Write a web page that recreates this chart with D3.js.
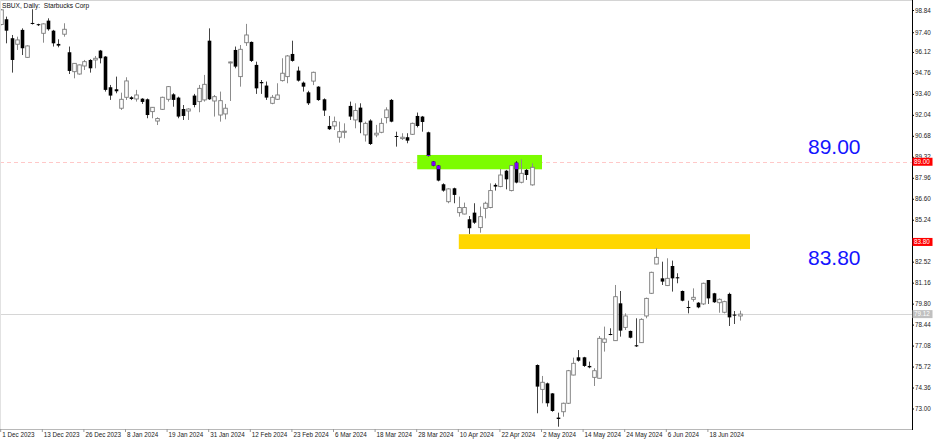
<!DOCTYPE html>
<html><head><meta charset="utf-8">
<script src="https://cdn.jsdelivr.net/npm/d3@7"></script>
<style>
html,body{margin:0;padding:0;background:#fff}
svg{display:block}
text{font-family:"Liberation Sans",Arial,sans-serif}
</style>
</head><body>
<svg id="c" width="936" height="440"></svg>
<script>
// ---------- DATA ----------
const dates = [
"2023-12-01","2023-12-04","2023-12-05","2023-12-06","2023-12-07","2023-12-08","2023-12-11","2023-12-12","2023-12-13","2023-12-14","2023-12-15","2023-12-18","2023-12-19","2023-12-20","2023-12-21","2023-12-22","2023-12-26","2023-12-27","2023-12-28","2023-12-29",
"2024-01-02","2024-01-03","2024-01-04","2024-01-05","2024-01-08","2024-01-09","2024-01-10","2024-01-11","2024-01-12","2024-01-16","2024-01-17","2024-01-18","2024-01-19","2024-01-22","2024-01-23","2024-01-24","2024-01-25","2024-01-26","2024-01-29","2024-01-30","2024-01-31",
"2024-02-01","2024-02-02","2024-02-05","2024-02-06","2024-02-07","2024-02-08","2024-02-09","2024-02-12","2024-02-13","2024-02-14","2024-02-15","2024-02-16","2024-02-20","2024-02-21","2024-02-22","2024-02-23","2024-02-26","2024-02-27","2024-02-28","2024-02-29",
"2024-03-01","2024-03-04","2024-03-05","2024-03-06","2024-03-07","2024-03-08","2024-03-11","2024-03-12","2024-03-13","2024-03-14","2024-03-15","2024-03-18","2024-03-19","2024-03-20","2024-03-21","2024-03-22","2024-03-25","2024-03-26","2024-03-27","2024-03-28",
"2024-04-01","2024-04-02","2024-04-03","2024-04-04","2024-04-05","2024-04-08","2024-04-09","2024-04-10","2024-04-11","2024-04-12","2024-04-15","2024-04-16","2024-04-17","2024-04-18","2024-04-19","2024-04-22","2024-04-23","2024-04-24","2024-04-25","2024-04-26","2024-04-29","2024-04-30",
"2024-05-01","2024-05-02","2024-05-03","2024-05-06","2024-05-07","2024-05-08","2024-05-09","2024-05-10","2024-05-13","2024-05-14","2024-05-15","2024-05-16","2024-05-17","2024-05-20","2024-05-21","2024-05-22","2024-05-23","2024-05-24","2024-05-28","2024-05-29","2024-05-30","2024-05-31",
"2024-06-03","2024-06-04","2024-06-05","2024-06-06","2024-06-07","2024-06-10","2024-06-11","2024-06-12","2024-06-13","2024-06-14","2024-06-17","2024-06-18","2024-06-20","2024-06-21","2024-06-24","2024-06-25","2024-06-26","2024-06-27"
];
const open = [
97.90,98.24,97.01,96.62,97.55,95.77,98.00,97.92,97.33,98.15,97.50,96.64,97.27,96.10,94.84,94.69,95.21,95.60,95.60,96.21,
95.82,93.83,93.70,92.47,93.18,93.18,93.07,93.09,93.05,92.25,91.64,92.40,93.05,93.37,93.16,92.42,92.29,93.29,92.90,93.01,96.85,
92.94,92.03,92.10,95.45,96.25,94.52,96.72,96.77,95.28,94.17,93.94,92.79,93.05,94.26,94.52,95.99,94.91,94.13,93.50,94.23,
93.87,93.05,91.32,91.32,90.59,90.91,92.62,91.71,92.51,90.74,91.67,90.74,90.91,91.86,93.01,90.67,90.50,90.59,90.78,91.97,
91.93,90.91,89.01,88.75,87.54,86.41,87.28,85.70,85.61,85.27,85.70,84.73,85.98,86.03,87.50,87.39,88.42,87.13,88.94,87.67,88.47,87.50,
75.82,74.24,74.63,73.98,72.41,72.79,73.34,75.17,76.32,76.32,75.76,75.02,74.96,77.29,77.83,77.40,79.82,78.26,78.03,77.10,77.27,79.00,
80.47,82.37,81.44,80.97,82.24,81.51,80.62,79.58,80.08,79.86,79.78,81.33,80.47,79.86,79.24,80.43,79.09,79.00
];
const high = [
98.90,98.41,97.22,97.11,97.65,96.55,98.89,97.95,97.98,98.30,97.55,96.94,97.98,96.47,95.40,95.30,95.60,95.65,95.86,96.25,
95.85,93.98,94.52,93.48,94.48,93.25,93.66,93.12,93.10,92.55,91.88,93.22,93.91,93.44,93.22,92.68,92.47,93.40,93.98,94.63,97.65,
93.33,93.55,92.75,95.50,96.47,96.57,97.94,96.80,95.49,94.30,94.20,93.33,94.09,95.71,95.92,96.85,95.17,94.20,93.60,94.84,
93.90,93.11,91.97,91.93,91.60,91.49,92.90,92.79,92.79,91.60,91.75,91.39,91.82,92.53,93.07,90.95,90.85,90.85,91.54,92.19,
91.97,90.95,89.05,88.79,87.60,87.28,87.32,86.74,86.35,85.48,86.31,86.09,86.41,87.60,87.60,88.53,88.47,88.79,89.05,89.16,88.53,88.90,
75.86,75.11,74.68,74.00,72.73,73.38,75.50,76.30,76.79,76.35,76.04,75.61,77.70,78.31,78.20,81.01,80.62,79.17,78.05,78.85,78.85,80.19,
81.87,83.39,82.52,82.74,82.59,81.77,80.65,79.99,80.79,79.90,81.16,81.33,80.50,80.14,79.99,80.51,79.32,79.34
];
const low = [
97.85,96.68,94.78,96.25,95.92,95.75,97.90,97.80,96.72,97.50,96.47,96.42,97.11,94.69,94.41,94.65,94.95,94.78,95.06,95.38,
93.55,93.01,93.44,92.36,93.01,93.00,92.90,92.75,91.82,91.82,91.38,92.36,92.90,92.57,91.82,91.71,91.71,92.53,92.21,92.90,93.01,
91.93,91.60,91.75,92.94,95.06,93.87,96.51,95.47,93.40,93.40,93.01,92.73,93.01,94.20,94.09,95.49,94.20,93.55,92.68,93.97,
92.95,91.97,91.06,91.06,90.24,90.52,91.71,91.17,90.85,90.31,90.09,90.59,90.85,91.49,91.56,89.98,90.41,90.20,90.74,91.23,
90.95,89.33,88.70,87.73,87.06,86.31,86.31,85.44,85.59,84.32,84.97,84.40,85.33,85.98,87.13,87.35,87.21,87.08,87.60,87.60,87.82,87.45,
72.69,73.34,73.12,72.79,71.82,72.47,73.29,75.15,76.04,75.70,75.61,74.46,74.95,76.69,77.75,77.38,77.66,78.09,77.55,76.99,77.25,78.85,
80.43,82.35,81.01,80.94,80.58,81.12,79.95,79.17,79.93,79.50,79.71,79.78,79.85,79.21,79.17,78.35,78.48,78.70
];
const close = [
98.85,97.50,95.60,96.90,96.36,96.51,97.94,97.87,97.94,97.59,96.68,96.53,97.59,94.89,95.38,95.28,95.49,95.06,95.71,95.71,
93.66,93.29,93.57,93.05,94.24,93.07,93.33,92.88,92.03,92.53,91.80,93.18,93.87,93.01,91.93,91.97,92.42,92.68,93.76,94.02,93.05,
93.22,92.96,92.47,95.47,95.17,96.29,97.22,95.54,93.76,94.09,93.16,93.18,93.33,94.74,95.86,95.54,94.26,93.87,92.79,94.80,
93.00,92.32,91.11,91.60,90.95,90.98,91.93,92.32,91.56,91.49,90.15,90.85,91.49,92.36,91.60,90.65,90.59,90.37,91.49,91.32,
91.58,89.38,88.75,87.78,87.13,87.24,86.85,86.03,86.03,84.69,85.05,85.44,86.31,87.13,87.39,88.14,87.86,88.75,87.65,88.25,88.14,88.64,
74.42,74.70,73.34,72.84,72.32,73.34,75.45,75.93,76.10,75.76,75.67,75.45,77.55,77.51,77.77,80.25,78.05,79.00,77.59,77.03,78.78,80.14,
81.83,82.80,81.23,81.44,81.44,81.44,79.99,79.52,80.21,79.56,81.12,80.14,79.89,80.08,79.93,78.91,79.02,79.12
];
const priceTicks = [98.84,97.40,96.12,94.76,93.40,92.04,90.68,89.32,87.96,86.60,85.24,83.88,82.52,81.16,79.80,78.44,77.08,75.72,74.36,73.00];
const dateTickIndex = [0,8,16,24,32,40,48,56,64,72,80,88,96,104,112,120,128,136];
const dateTickLabels = ["1 Dec 2023","13 Dec 2023","26 Dec 2023","8 Jan 2024","19 Jan 2024","31 Jan 2024","12 Feb 2024","23 Feb 2024","6 Mar 2024","18 Mar 2024","28 Mar 2024","10 Apr 2024","22 Apr 2024","2 May 2024","14 May 2024","24 May 2024","6 Jun 2024","18 Jun 2024"];
const levelPrices = [89.00, 83.80];
const levelTexts = ["89.00", "83.80"];
const lastPrice = 79.12;
const zoneStart = [80, 88];
const zoneEnd = [104, 144];
const zoneHigh = [89.44, 84.30];
const zoneLow = [88.51, 83.34];
const title = "SBUX, Daily:  Starbucks Corp";

// ---------- LAYOUT ----------
const svg = d3.select("#c");
const axisX = 912, axisY = 429;
const x = d3.scaleLinear().domain([0, dates.length - 1]).range([1.2, 739.6]);
const y = d3.scaleLinear().domain([73.00, 98.84]).range([408.5, 10]);
const bodyW = 3.6;
const smallFont = "6.3px";

svg.append("rect").attr("width",936).attr("height",440).attr("fill","#fff");
svg.append("defs").append("clipPath").attr("id","plot")
  .append("rect").attr("x",1).attr("y",1).attr("width",axisX-1).attr("height",axisY-1);

// frame
svg.append("line").attr("x1",0).attr("x2",axisX).attr("y1",0.5).attr("y2",0.5).attr("stroke","#d4d4d4");
svg.append("line").attr("x1",0.5).attr("x2",0.5).attr("y1",0).attr("y2",axisY).attr("stroke","#e2e2e2");
svg.append("line").attr("x1",0).attr("x2",axisX).attr("y1",axisY+0.5).attr("y2",axisY+0.5).attr("stroke","#b8b8b8");

const plot = svg.append("g").attr("clip-path","url(#plot)");

// level line 89.00 dashed
plot.append("line").attr("x1",0).attr("x2",axisX)
  .attr("y1",Math.round(y(levelPrices[0]))+0.5).attr("y2",Math.round(y(levelPrices[0]))+0.5)
  .attr("stroke","#ffc8c8").attr("stroke-dasharray","4,3");
// last price line
plot.append("line").attr("x1",0).attr("x2",axisX)
  .attr("y1",Math.round(y(lastPrice))+0.5).attr("y2",Math.round(y(lastPrice))+0.5)
  .attr("stroke","#d6d6d6");

// zones
const zoneColors = ["#7cfc00", "#ffd700"];
zoneStart.forEach((s,k)=>{
  plot.append("rect").attr("x",x(s)).attr("width",x(zoneEnd[k])-x(s))
    .attr("y",y(zoneHigh[k])).attr("height",y(zoneLow[k])-y(zoneHigh[k]))
    .attr("fill",zoneColors[k]);
});
svg.select("defs").append("clipPath").attr("id","gz")
  .append("rect").attr("x",x(zoneStart[0])).attr("width",x(zoneEnd[0])-x(zoneStart[0]))
  .attr("y",y(zoneHigh[0])).attr("height",y(zoneLow[0])-y(zoneHigh[0]));

const bars = dates.map((d,i)=>({i, o:open[i], h:high[i], l:low[i], c:close[i]}));

// wicks
plot.selectAll("line.w").data(bars).join("line").attr("class","w")
  .attr("x1",d=>Math.round(x(d.i))+0.5).attr("x2",d=>Math.round(x(d.i))+0.5)
  .attr("y1",d=>y(d.h)).attr("y2",d=>y(d.l))
  .attr("stroke",d=>d.c>=d.o?"#8c8c8c":"#444").attr("stroke-width",1);

// bodies
function bodyTop(d){return y(Math.max(d.o,d.c));}
function bodyH(d){return Math.max(1, Math.abs(y(d.o)-y(d.c)));}
plot.selectAll("rect.b").data(bars).join("rect").attr("class","b")
  .attr("x",d=>Math.round(x(d.i))+0.5-bodyW/2).attr("width",bodyW)
  .attr("y",bodyTop).attr("height",bodyH)
  .attr("fill",d=>d.c>d.o?"#fff":"#000")
  .attr("stroke",d=>d.c>d.o?"#7a7a7a":"none").attr("stroke-width",0.9);

// overlap of dark bodies with green zone
plot.append("g").attr("clip-path","url(#gz)")
  .selectAll("rect").data(bars.filter(d=>d.c<=d.o)).join("rect")
  .attr("x",d=>Math.round(x(d.i))+0.5-bodyW/2).attr("width",bodyW)
  .attr("y",bodyTop).attr("height",bodyH).attr("fill","#8000ff");

// right axis
const ya = svg.append("g").attr("transform",`translate(${axisX},0)`)
  .call(d3.axisRight(y).tickValues(priceTicks).tickSize(2).tickPadding(1).tickFormat(d3.format(".2f")));
ya.select(".domain").remove();
ya.selectAll("line").attr("stroke","#000");
ya.selectAll("text").attr("font-size",smallFont).attr("fill","#222").attr("font-family","Liberation Sans, Arial, sans-serif");
svg.append("line").attr("x1",axisX+0.5).attr("x2",axisX+0.5).attr("y1",0).attr("y2",axisY+1).attr("stroke","#000");

// bottom axis
const xa = svg.append("g").attr("transform",`translate(-1,${axisY})`)
  .call(d3.axisBottom(x).tickValues(dateTickIndex).tickSize(3).tickFormat((d,k)=>dateTickLabels[k]));
xa.select(".domain").remove();
xa.selectAll("line").attr("stroke","#999");
xa.selectAll("text").attr("text-anchor","start").attr("dx","1.5px").attr("dy","0").attr("y",8)
  .attr("font-size",smallFont).attr("fill","#222").attr("font-family","Liberation Sans, Arial, sans-serif");

// axis price boxes
function priceBox(p, fill){
  const yy = y(p);
  svg.append("rect").attr("x",axisX+0.5).attr("y",yy-4).attr("width",20).attr("height",8).attr("fill",fill);
  svg.append("text").attr("x",axisX+2).attr("y",yy+2.3).attr("font-size",smallFont).attr("fill","#fff")
    .text(d3.format(".2f")(p));
}
priceBox(levelPrices[0], "#ff0000");
priceBox(levelPrices[1], "#ff0000");
priceBox(lastPrice, "#c0c0c0");

// big level texts
levelPrices.forEach((p,k)=>{
  svg.append("text").attr("x",808).attr("y",y(p)+ (k===0 ? -7.5 : 23.5))
    .attr("font-size","21px").attr("fill","#1414ff").text(levelTexts[k]);
});

// title
svg.append("text").attr("x",2).attr("y",7.5).attr("font-size","6.6px").attr("fill","#111")
  .style("white-space","pre").text(title);
</script>
</body></html>
